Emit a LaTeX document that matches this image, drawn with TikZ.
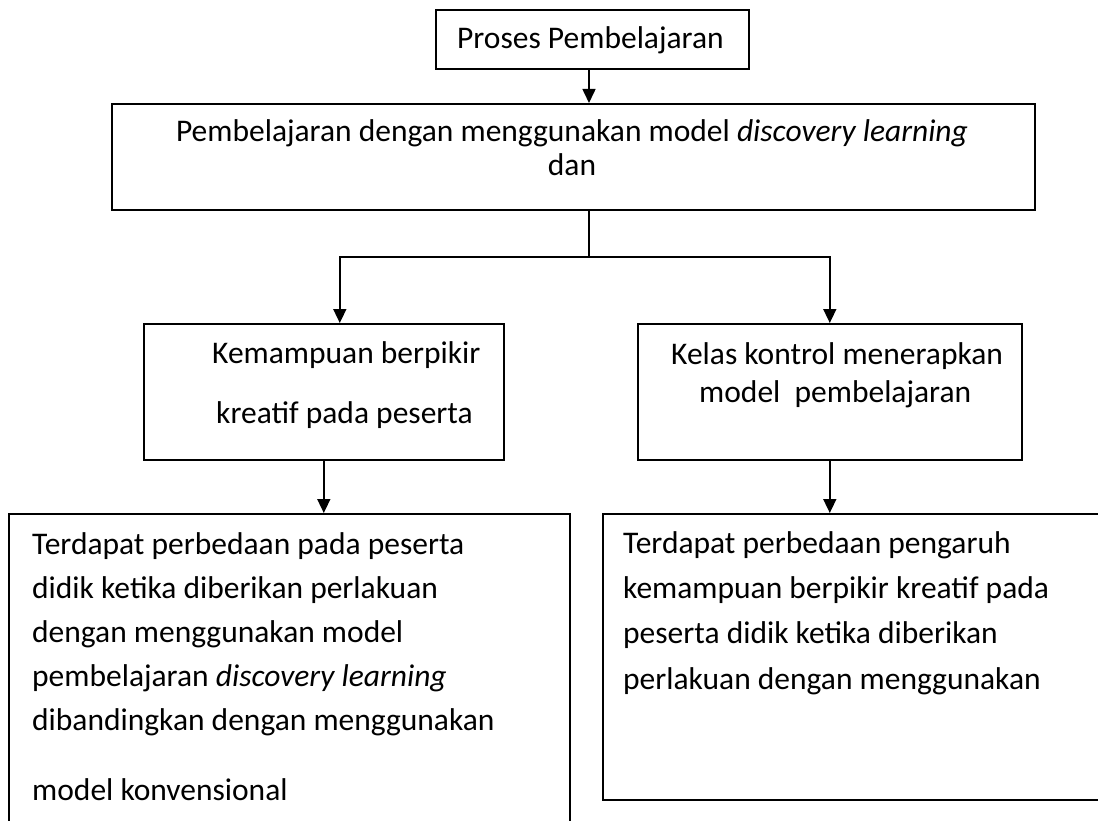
\documentclass[tikz,border=0pt]{standalone}
\usepackage{fontspec}
\setmainfont{Carlito}
\usetikzlibrary{arrows.meta}

\begin{document}
\begin{tikzpicture}[x=1pt,y=-1pt,
		box/.style={rectangle,draw,line width=1.6pt,inner sep=0pt,anchor=north west},
		txt/.style={inner sep=0pt,font=\fontsize{31.5}{38}\selectfont},
		arr/.style={line width=1.6pt,-{Triangle[length=14pt,width=13pt]}}]
		\useasboundingbox (0,0) rectangle (1098,821);
		\clip (0,0) rectangle (1098,821);
%		\draw[help lines] (0,0) grid[step=50] (1098,821);
		\path (435,9) node(proses) [box,minimum width=313pt,minimum height=59pt] {};
		\path (111,103) node(model) [box,minimum width=923pt,minimum height=106pt] {};
		\path (143,323) node(kemampuan) [box,minimum width=360pt,minimum height=136pt] {};
		\path (637,323) node(kontrol) [box,minimum width=384pt,minimum height=136pt] {};
		\path (8,513) node(hasil_a) [box,minimum width=561pt,minimum height=340pt] {};
		\path (602,513) node(hasil_b) [box,minimum width=540pt,minimum height=286pt] {};
		\path (589,257) coordinate (split);

		\path (457,49) node(proses_txt) [txt,anchor=base west] {Proses Pembelajaran};
		\path (572,142) node(model_l1) [txt,anchor=base] {Pembelajaran dengan menggunakan model \textit{discovery learning}};
		\path (572,176) node(model_l2) [txt,anchor=base] {dan};
		\path (212,363) node(kemampuan_l1) [txt,anchor=base west] {Kemampuan berpikir};
		\path (216,423) node(kemampuan_l2) [txt,anchor=base west] {kreatif pada peserta};
		\path (671,364) node(kontrol_l1) [txt,anchor=base west] {Kelas kontrol menerapkan};
		\path (699,402) node(kontrol_l2) [txt,anchor=base west] {model~~pembelajaran};
		\path (32,554) node(hasil_a1) [txt,anchor=base west] {Terdapat perbedaan pada peserta};
		\path (32,598) node(hasil_a2) [txt,anchor=base west] {didik ketika diberikan perlakuan};
		\path (32,642) node(hasil_a3) [txt,anchor=base west] {dengan menggunakan model};
		\path (32,686) node(hasil_a4) [txt,anchor=base west] {pembelajaran \textit{discovery learning}};
		\path (32,730) node(hasil_a5) [txt,anchor=base west] {dibandingkan dengan menggunakan};
		\path (32,800) node(hasil_a6) [txt,anchor=base west] {model konvensional};
		\path (623,553) node(hasil_b1) [txt,anchor=base west] {Terdapat perbedaan pengaruh};
		\path (623,598) node(hasil_b2) [txt,anchor=base west] {kemampuan berpikir kreatif pada};
		\path (623,643) node(hasil_b3) [txt,anchor=base west] {peserta didik ketika diberikan};
		\path (623,689) node(hasil_b4) [txt,anchor=base west] {perlakuan dengan menggunakan};

		\draw[arr] (proses.south -| split) -- (model.north -| split);
		\draw[line width=1.6pt] (model.south -| split) -- (split);
		\draw[arr] (split) -| ([xshift=16pt]kemampuan.north);
		\draw[arr] (split) -| (kontrol.north);
		\draw[arr] (kemampuan.south) -- (kemampuan.south |- hasil_a.north);
		\draw[arr] (kontrol.south) -- (kontrol.south |- hasil_b.north);
	\end{tikzpicture}
\end{document}
